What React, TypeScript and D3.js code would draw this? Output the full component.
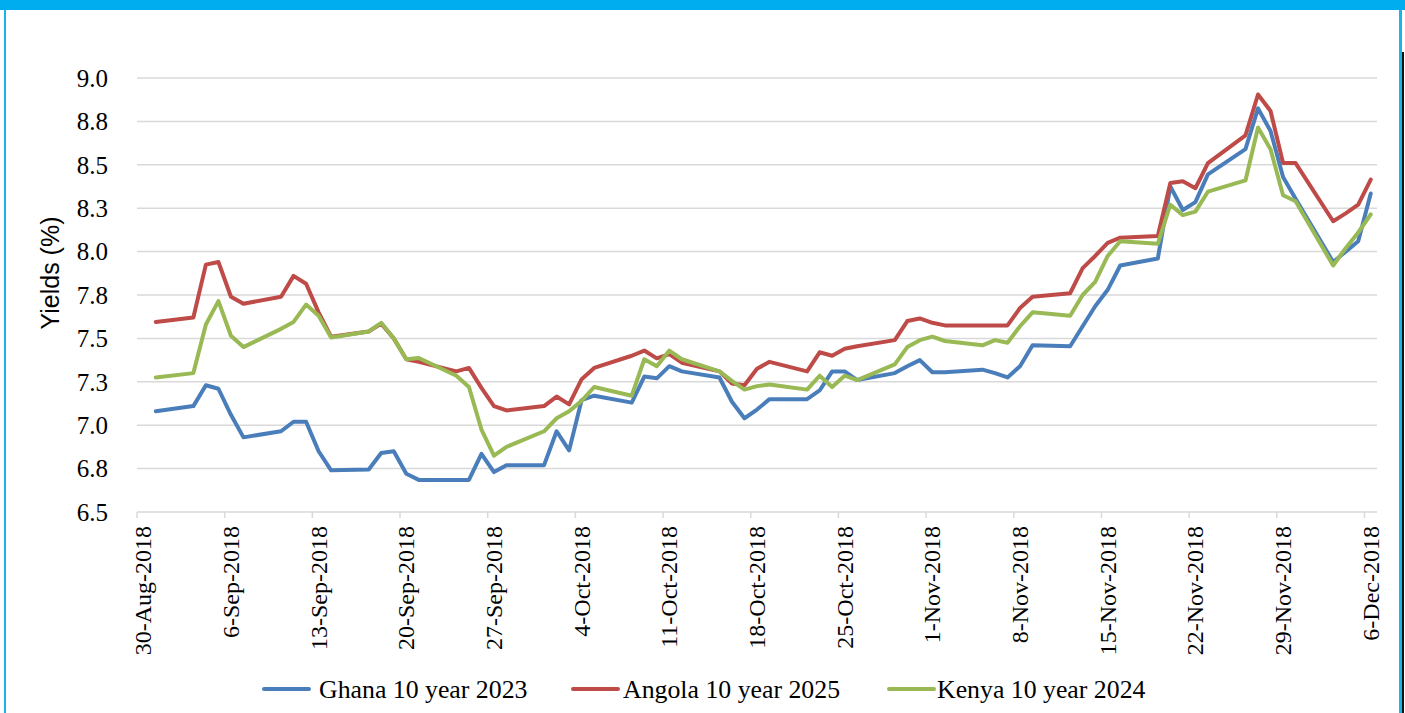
import React from "react";
import * as d3 from "d3";

const dates: string[] = [
  "2018-08-31","2018-09-03","2018-09-04","2018-09-05","2018-09-06","2018-09-07",
  "2018-09-10","2018-09-11","2018-09-12","2018-09-13","2018-09-14",
  "2018-09-17","2018-09-18","2018-09-19","2018-09-20","2018-09-21",
  "2018-09-24","2018-09-25","2018-09-26","2018-09-27","2018-09-28",
  "2018-10-01","2018-10-02","2018-10-03","2018-10-04","2018-10-05",
  "2018-10-08","2018-10-09","2018-10-10","2018-10-11","2018-10-12",
  "2018-10-15","2018-10-16","2018-10-17","2018-10-18","2018-10-19",
  "2018-10-22","2018-10-23","2018-10-24","2018-10-25","2018-10-26",
  "2018-10-29","2018-10-30","2018-10-31","2018-11-01","2018-11-02",
  "2018-11-05","2018-11-06","2018-11-07","2018-11-08","2018-11-09",
  "2018-11-12","2018-11-13","2018-11-14","2018-11-15","2018-11-16",
  "2018-11-19","2018-11-20","2018-11-21","2018-11-22","2018-11-23",
  "2018-11-26","2018-11-27","2018-11-28","2018-11-29","2018-11-30",
  "2018-12-03","2018-12-04","2018-12-05","2018-12-06",
];

const ghana: number[] = [
  7.08, 7.11, 7.23, 7.21, 7.06, 6.93,
  6.965, 7.02, 7.02, 6.85, 6.74,
  6.745, 6.84, 6.85, 6.72, 6.685,
  6.685, 6.685, 6.835, 6.73, 6.77,
  6.77, 6.965, 6.855, 7.145, 7.17,
  7.13, 7.28, 7.27, 7.34, 7.31,
  7.275, 7.135, 7.04, 7.09, 7.15,
  7.15, 7.2, 7.31, 7.31, 7.26,
  7.3, 7.34, 7.375, 7.305, 7.305,
  7.32, 7.3, 7.275, 7.34, 7.46,
  7.455, 7.57, 7.685, 7.78, 7.92,
  7.96, 8.375, 8.24, 8.285, 8.445,
  8.59, 8.825, 8.695, 8.43, 8.305,
  7.94, 8.0, 8.06, 8.335,
];

const angola: number[] = [
  7.595, 7.62, 7.925, 7.94, 7.74, 7.7,
  7.74, 7.86, 7.815, 7.65, 7.51,
  7.54, 7.585, 7.5, 7.38, 7.365,
  7.31, 7.33, 7.215, 7.11, 7.085,
  7.11, 7.165, 7.12, 7.265, 7.33,
  7.4, 7.43, 7.385, 7.41, 7.36,
  7.31, 7.24, 7.23, 7.325, 7.365,
  7.31, 7.42, 7.4, 7.44, 7.455,
  7.49, 7.6, 7.615, 7.59, 7.575,
  7.575, 7.575, 7.575, 7.675, 7.74,
  7.76, 7.905, 7.975, 8.05, 8.08,
  8.09, 8.395, 8.405, 8.365, 8.51,
  8.67, 8.905, 8.81, 8.51, 8.51,
  8.175, 8.22, 8.27, 8.415,
];

const kenya: number[] = [
  7.275, 7.3, 7.58, 7.715, 7.515, 7.45,
  7.555, 7.595, 7.695, 7.63, 7.505,
  7.54, 7.59, 7.5, 7.38, 7.387,
  7.285, 7.22, 6.975, 6.825, 6.875,
  6.965, 7.04, 7.08, 7.14, 7.22,
  7.17, 7.38, 7.34, 7.43, 7.38,
  7.31, 7.255, 7.205, 7.225, 7.235,
  7.205, 7.285, 7.22, 7.285, 7.26,
  7.35, 7.45, 7.49, 7.51, 7.485,
  7.46, 7.49, 7.475, 7.57, 7.65,
  7.63, 7.75, 7.825, 7.975, 8.06,
  8.045, 8.27, 8.21, 8.23, 8.345,
  8.41, 8.715, 8.59, 8.325, 8.29,
  7.92, 8.02, 8.11, 8.215,
];

const seriesNames: string[] = ["Ghana 10 year 2023", "Angola 10 year 2025", "Kenya 10 year 2024"];
const seriesColors: string[] = ["#4A7EBB", "#BE4B48", "#98B954"];
const yTicks: number[] = [6.5, 6.75, 7.0, 7.25, 7.5, 7.75, 8.0, 8.25, 8.5, 8.75, 9.0];
const xTickDates: string[] = [
  "2018-08-30","2018-09-06","2018-09-13","2018-09-20","2018-09-27","2018-10-04","2018-10-11",
  "2018-10-18","2018-10-25","2018-11-01","2018-11-08","2018-11-15","2018-11-22","2018-11-29","2018-12-06",
];
const yTitle = "Yields (%)";

const W = 1405;
const H = 713;
const plotL = 137;
const plotR = 1377;
const plotT = 78;
const plotB = 512;

const parse = d3.utcParse("%Y-%m-%d");
const HALF_DAY = 12 * 3600 * 1000;

export default function App() {
  const x = d3
    .scaleUtc()
    .domain([parse("2018-08-30") as Date, parse("2018-12-07") as Date])
    .range([plotL, plotR]);
  const y = d3.scaleLinear().domain([6.5, 9.0]).range([plotB, plotT]);
  const fmtY = d3.format(".1f");
  const fmtX = d3.utcFormat("%-d-%b-%Y");

  const all = [ghana, angola, kenya];
  const line = d3
    .line<[Date, number]>()
    .x((d) => x(new Date(d[0].getTime() + HALF_DAY)))
    .y((d) => y(d[1]));

  const serif = "'Liberation Serif', 'Times New Roman', serif";
  const legendItems = [
    { lx: 264, tx: 319 },
    { lx: 573, tx: 623 },
    { lx: 889, tx: 937 },
  ];
  const legendY = 689;

  return (
    <svg
      width={W}
      height={H}
      style={{ position: "absolute", left: 0, top: 0, background: "#fff" }}
    >
      <rect x={0} y={0} width={W} height={H} fill="#fff" />
      {/* frame */}
      <rect x={0} y={0} width={W} height={10} fill="#00AEEF" />
      <rect x={4} y={10} width={2} height={H - 10} fill="#1AB3EC" />
      <rect x={1399} y={10} width={3} height={H - 10} fill="#1AB3EC" />
      <rect x={1402} y={52} width={2} height={H - 52} fill="#111" />

      {/* gridlines */}
      {yTicks.map((t) => (
        <line
          key={"g" + t}
          x1={plotL}
          x2={plotR}
          y1={y(t)}
          y2={y(t)}
          stroke="#D9D9D9"
          strokeWidth={1.5}
        />
      ))}
      {/* x axis ticks */}
      {xTickDates.map((s) => {
        const d = parse(s) as Date;
        const xx = x(d);
        return (
          <line key={"t" + s} x1={xx} x2={xx} y1={plotB} y2={plotB + 6} stroke="#D9D9D9" strokeWidth={1.5} />
        );
      })}

      {/* y labels */}
      {yTicks.map((t) => (
        <text
          key={"yl" + t}
          x={108}
          y={y(t)}
          dy="0.35em"
          textAnchor="end"
          fontFamily={serif}
          fontSize={25}
          fill="#000"
        >
          {fmtY(t)}
        </text>
      ))}

      {/* x labels */}
      {xTickDates.map((s) => {
        const d = parse(s) as Date;
        const xx = x(new Date(d.getTime() + HALF_DAY));
        return (
          <text
            key={"xl" + s}
            transform={`translate(${xx},${526}) rotate(-90)`}
            dy="0.33em"
            textAnchor="end"
            fontFamily={serif}
            fontSize={24}
            fill="#000"
          >
            {fmtX(d)}
          </text>
        );
      })}

      {/* y title */}
      <text
        transform={`translate(${50},${273}) rotate(-90)`}
        dy="0.35em"
        textAnchor="middle"
        fontFamily="'Liberation Sans', Arial, sans-serif"
        fontSize={25}
        fill="#000"
      >
        {yTitle}
      </text>

      {/* lines */}
      {all.map((vals, i) => {
        const pts: [Date, number][] = vals.map((v, j) => [parse(dates[j]) as Date, v]);
        return (
          <path
            key={"s" + i}
            d={line(pts) || ""}
            fill="none"
            stroke={seriesColors[i]}
            strokeWidth={4}
            strokeLinejoin="round"
            strokeLinecap="round"
          />
        );
      })}

      {/* legend */}
      {seriesNames.map((n, i) => (
        <g key={"lg" + i}>
          <line
            x1={legendItems[i].lx}
            x2={legendItems[i].lx + 45}
            y1={legendY}
            y2={legendY}
            stroke={seriesColors[i]}
            strokeWidth={4}
            strokeLinecap="round"
          />
          <text
            x={legendItems[i].tx}
            y={legendY}
            dy="0.35em"
            fontFamily={serif}
            fontSize={25.8}
            fill="#000"
          >
            {n}
          </text>
        </g>
      ))}
    </svg>
  );
}
